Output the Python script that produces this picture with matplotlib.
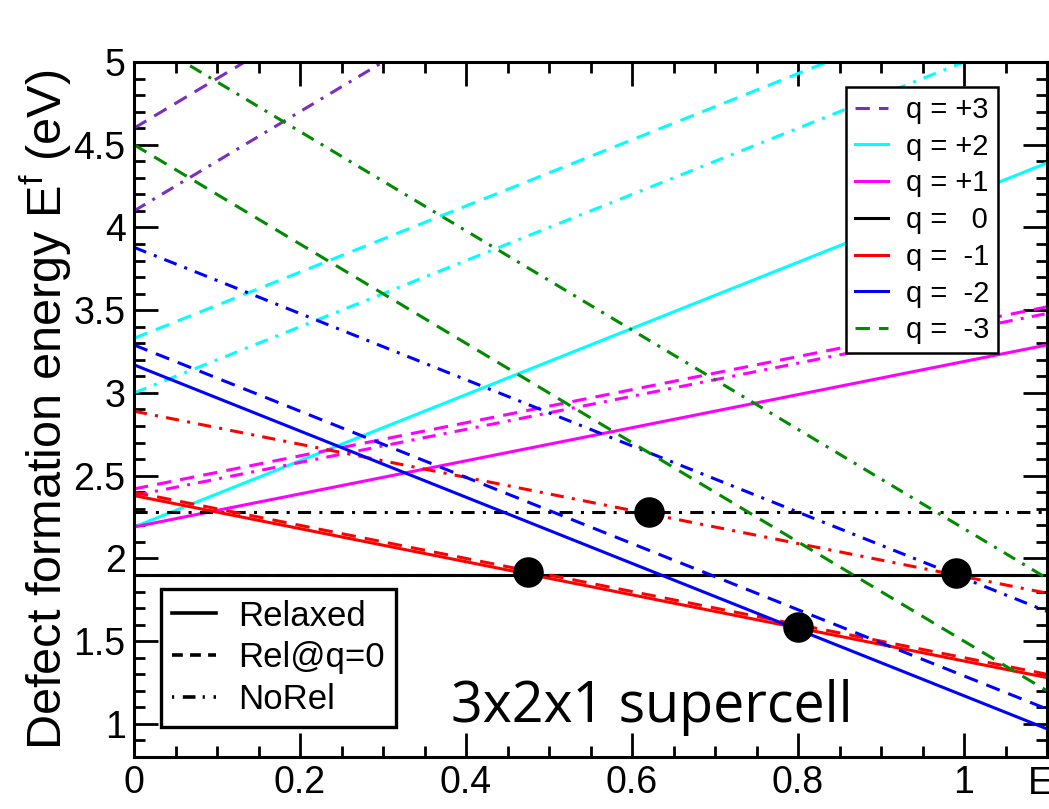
import matplotlib
matplotlib.use("Agg")
import matplotlib.pyplot as plt
from matplotlib.lines import Line2D
from matplotlib.ticker import MultipleLocator, FixedLocator, FixedFormatter
import numpy as np

# ---- data ----
charges = [3, 2, 1, 0, -1, -2, -3]
charge_labels = ["q = +3", "q = +2", "q = +1", "q =   0", "q =  -1", "q =  -2", "q =  -3"]
colors = ["#7b2fbe", "#00ffff", "#ff00ff", "#000000", "#ff0000", "#0000ff", "#008b00"]

# formation energy at E_F = 0 (eV); None = not shown
e0_relaxed = [None, 2.19, 2.19, 1.90, 2.38, 3.17, None]
e0_relq0 = [4.60, 3.33, 2.42, 1.90, 2.40, 3.29, 4.50]
e0_norel = [4.10, 3.00, 2.38, 2.28, 2.89, 3.88, 5.18]

e_gap = 1.1
transition_x = [0.475, 0.62, 0.80, 0.99]
transition_y = [1.92, 2.28, 1.585, 1.91]

xticks = [0, 0.2, 0.4, 0.6, 0.8, 1.0, 1.1]
xticklabels = ["0", "0.2", "0.4", "0.6", "0.8", "1", "E$_g$"]
yticks = [1, 1.5, 2, 2.5, 3, 3.5, 4, 4.5, 5]
yticklabels = ["1", "1.5", "2", "2.5", "3", "3.5", "4", "4.5", "5"]

plt.rcParams['font.family'] = ['Liberation Sans', 'DejaVu Sans']
plt.rcParams['mathtext.fontset'] = 'custom'
plt.rcParams['mathtext.rm'] = 'Liberation Sans'
plt.rcParams['mathtext.it'] = 'Liberation Sans'

fig = plt.figure(figsize=(10.49, 8.09), dpi=100)
ax = fig.add_axes([134/1049, 1 - 757/809, 913/1049, (757 - 62)/809])

lw = 2.2
dash_style = (0, (4.7, 3))
dashdot_style = (0, (4.3, 2.7, 1, 2.7))

x = np.array([0.0, e_gap])
for q, c, a, b, d in zip(charges, colors, e0_relaxed, e0_relq0, e0_norel):
    if d is not None:
        ax.plot(x, d + q * x, color=c, lw=lw, linestyle=dashdot_style)
    if b is not None:
        ax.plot(x, b + q * x, color=c, lw=lw, linestyle=dash_style)
    if a is not None:
        ax.plot(x, a + q * x, color=c, lw=lw, linestyle='-')

ax.scatter(transition_x, transition_y, s=440, color='black', zorder=10)

ax.set_xlim(0, e_gap)
ax.set_ylim(0.8, 5)
ax.xaxis.set_major_locator(FixedLocator(xticks))
ax.xaxis.set_major_formatter(FixedFormatter(xticklabels))
ax.xaxis.set_minor_locator(MultipleLocator(0.05))
ax.yaxis.set_major_locator(FixedLocator(yticks))
ax.yaxis.set_major_formatter(FixedFormatter(yticklabels))
ax.yaxis.set_minor_locator(MultipleLocator(0.1))
ax.tick_params(which='both', direction='in', top=True, right=True, labelsize=27, width=2)
ax.tick_params(which='major', length=17, pad=6)
ax.tick_params(which='minor', length=8)
for s in ax.spines.values():
    s.set_linewidth(2.2)

ax.set_ylabel("Defect formation energy E$^{\\mathrm{f}}$ (eV)", fontsize=35)
ax.yaxis.set_label_coords(-0.066, 0.5)
ax.set_xlabel("E$_{\\mathrm{F}}$ (eV)", fontsize=34, labelpad=4)

# charge legend
styles_leg = [dash_style, '-', '-', '-', '-', '-', dash_style]
handles = [Line2D([0], [0], color=c, lw=lw, linestyle=s) for c, s in zip(colors, styles_leg)]
leg1 = ax.legend(handles, charge_labels, loc='upper right', bbox_to_anchor=(0.946, 0.964),
                 borderaxespad=0, fontsize=21, frameon=True, fancybox=False,
                 edgecolor='black', framealpha=1, handlelength=1.15, handletextpad=0.6,
                 labelspacing=0.3, borderpad=0.3)
leg1.get_frame().set_linewidth(1.8)
ax.add_artist(leg1)

# method legend
h2 = [Line2D([0], [0], color='black', lw=2.6, linestyle='-'),
      Line2D([0], [0], color='black', lw=2.6, linestyle=(0, (3, 2))),
      Line2D([0], [0], color='black', lw=2.6, linestyle=(0, (0.6, 2.4, 3.5, 2)))]
leg2 = ax.legend(h2, ["Relaxed", "Rel@q=0", "NoRel"], loc='lower left',
                 bbox_to_anchor=(0.0296, 0.043), borderaxespad=0, fontsize=25,
                 frameon=True, fancybox=False, edgecolor='black', framealpha=1,
                 handlelength=1.25, handletextpad=0.65, labelspacing=0.25, borderpad=0.32)
leg2.get_frame().set_linewidth(2.4)

ax.text(0.567, 0.050, "3x2x1 supercell", transform=ax.transAxes, fontsize=40,
        family='Open Sans', ha='center', va='baseline')

fig.savefig("out.png", dpi=100)
